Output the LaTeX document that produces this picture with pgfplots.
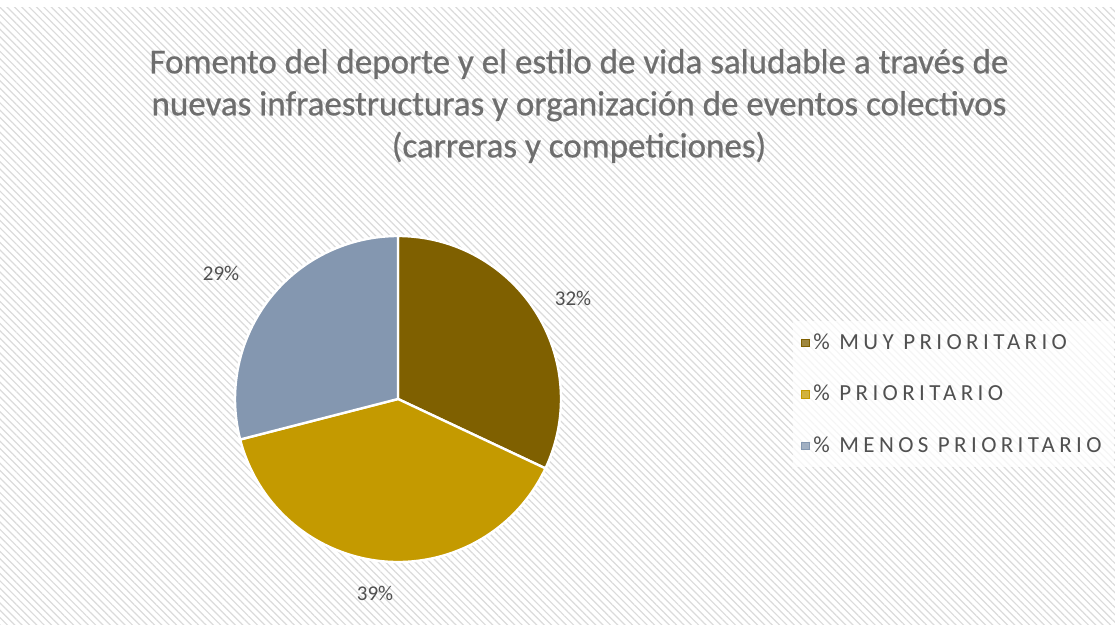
\documentclass[border=0pt]{standalone}
\usepackage{pgfplots}
\pgfplotsset{compat=1.18}
\usepackage{pgfplotstable}
\usepackage{fontspec}
\setmainfont{Carlito}
\usetikzlibrary{patterns.meta}

\definecolor{muy}{HTML}{7F6000}
\definecolor{pri}{HTML}{C49A00}
\definecolor{men}{HTML}{8497B0}
\definecolor{titlegray}{HTML}{6E6E6E}
\definecolor{txtgray}{HTML}{505050}

\pgfplotstableread{
name value
muy 32
pri 39
men 29
}\piedata

\begin{document}
\begin{tikzpicture}
\pgfplotstablegetelem{0}{value}\of\piedata \let\va\pgfplotsretval
\pgfplotstablegetelem{1}{value}\of\piedata \let\vb\pgfplotsretval
\pgfplotstablegetelem{2}{value}\of\piedata \let\vc\pgfplotsretval
\pgfmathsetmacro\aA{90-3.6*\va}
\pgfmathsetmacro\aB{\aA-3.6*\vb}
\pgfmathsetmacro\aC{\aB-3.6*\vc}
\begin{axis}[
  at={(0,0)}, anchor=south west,
  width=557.5bp, height=312.5bp, scale only axis,
  xmin=0, xmax=1115, ymin=0, ymax=625,
  hide axis, clip=false,
  legend cell align=left,
  legend style={at={(axis cs:793,304)}, anchor=north west,
    draw=none, fill=white, fill opacity=0.75, text opacity=1,
    font=\fontsize{11.5bp}{14bp}\selectfont\addfontfeatures{LetterSpace=19}\color{txtgray},
    row sep=12.5bp, inner sep=4bp},
  legend image code/.code={\fill[#1] (0bp,-1.8bp) rectangle (3.6bp,1.8bp);},
]
\coordinate (BL) at (axis cs:0,0);
\coordinate (TR) at (axis cs:1115,625);
% background
\fill[white] (axis cs:0,0) rectangle (axis cs:1115,625);
\fill[pattern={Lines[angle=-45,distance=2.6bp,line width=0.6bp]}, pattern color=black!14]
  (axis cs:0,0) rectangle (axis cs:1115,617);
% title
\node[font=\fontsize{17.5bp}{21bp}\selectfont\addfontfeatures{FakeBold=0.6}, text=titlegray, align=center, anchor=center]
  at (axis cs:579,519) {Fomento del deporte y el estilo de vida saludable a través de\\
  nuevas infraestructuras y organización de eventos colectivos\\
  (carreras y competiciones)};
% pie
\fill[muy, draw=white, line width=1.2bp] (axis cs:398,226) -- ++(90:81.5bp)
  arc[start angle=90, end angle=\aA, radius=81.5bp] -- cycle;
\fill[pri, draw=white, line width=1.2bp] (axis cs:398,226) -- ++(\aA:81.5bp)
  arc[start angle=\aA, end angle=\aB, radius=81.5bp] -- cycle;
\fill[men, draw=white, line width=1.2bp] (axis cs:398,226) -- ++(\aB:81.5bp)
  arc[start angle=\aB, end angle=\aC, radius=81.5bp] -- cycle;
% data labels
\node[font=\fontsize{10.5bp}{12bp}\selectfont, text=txtgray] at (axis cs:573,327) {\va\%};
\node[font=\fontsize{10.5bp}{12bp}\selectfont, text=txtgray] at (axis cs:375,32) {\vb\%};
\node[font=\fontsize{10.5bp}{12bp}\selectfont, text=txtgray] at (axis cs:221,352) {\vc\%};
% legend
\addlegendimage{muy}
\addlegendentry{\% MUY PRIORITARIO}
\addlegendimage{pri}
\addlegendentry{\% PRIORITARIO}
\addlegendimage{men}
\addlegendentry{\% MENOS PRIORITARIO}
\end{axis}
\pgfresetboundingbox
\path[use as bounding box] (BL) rectangle (TR);
\end{tikzpicture}
\end{document}
